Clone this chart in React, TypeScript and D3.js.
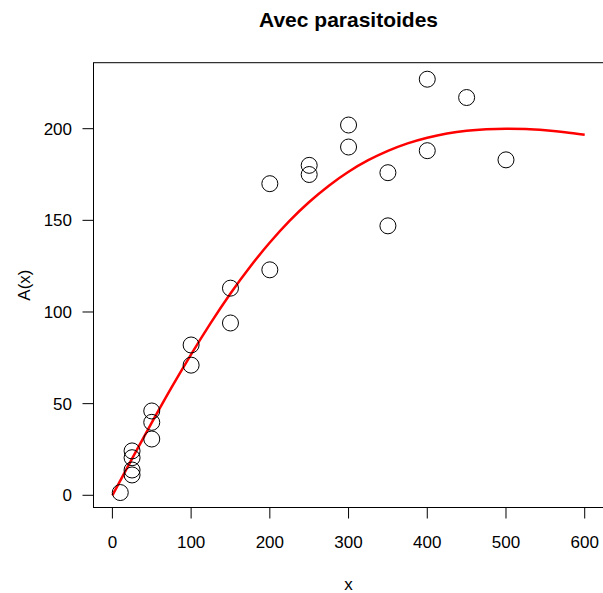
import React from "react";
import * as d3 from "d3";

const pointsX = [10, 25, 25, 25, 25, 50, 50, 50, 100, 100, 150, 150, 200, 200, 250, 250, 300, 300, 350, 350, 400, 400, 450, 500];
const pointsY = [1.5, 24.2, 20.5, 13.8, 11.1, 46, 39.8, 30.7, 82, 71, 113, 94, 170, 123, 180, 175, 202, 190, 176, 147, 227, 188, 217, 183];

const curveX = [0, 25, 50, 75, 100, 125, 150, 175, 200, 225, 250, 275, 300, 325, 350, 375, 400, 425, 450, 475, 500, 525, 550, 575, 600];
const curveY = [0, 20, 39.6, 58.7, 76.9, 94.1, 110.1, 124.7, 137.9, 149.7, 160, 168.9, 176.5, 182.8, 187.9, 192, 195.1, 197.4, 198.9, 199.7, 200, 199.8, 199.1, 198.1, 196.7];

const xTicks = [0, 100, 200, 300, 400, 500, 600];
const yTicks = [0, 50, 100, 150, 200];

const W = 603, H = 593;
const left = 93.5, right = 603.6, top = 62.7, bottom = 507.5;

export default function App() {
  const x = d3.scaleLinear().domain([-24, 624]).range([left, right]);
  const y = d3.scaleLinear().domain([-6.66, 236]).range([bottom, top]);
  const line = d3
    .line<number>()
    .x((_, i) => x(curveX[i]))
    .y((d) => y(d))
    .curve(d3.curveNatural);
  const font = "Liberation Sans, Arial, sans-serif";
  return (
    <svg width={W} height={H} style={{ position: "absolute", left: 0, top: 0, background: "#fff" }}>
      <rect x={0} y={0} width={W} height={H} fill="#fff" />
      <text x={(left + right) / 2} y={27} textAnchor="middle" fontFamily={font} fontWeight="bold" fontSize={21}>
        Avec parasitoides
      </text>
      <rect x={left} y={top} width={right - left} height={bottom - top} fill="none" stroke="#000" strokeWidth={1} />
      {xTicks.map((t) => (
        <g key={"x" + t}>
          <line x1={x(t)} x2={x(t)} y1={bottom} y2={bottom + 11} stroke="#000" />
          <text x={x(t)} y={548} textAnchor="middle" fontFamily={font} fontSize={17}>
            {t}
          </text>
        </g>
      ))}
      {yTicks.map((t) => (
        <g key={"y" + t}>
          <line x1={left - 11} x2={left} y1={y(t)} y2={y(t)} stroke="#000" />
          <text x={72} y={y(t) + 6} textAnchor="end" fontFamily={font} fontSize={17}>
            {t}
          </text>
        </g>
      ))}
      <text x={(left + right) / 2} y={590} textAnchor="middle" fontFamily={font} fontSize={17}>
        x
      </text>
      <text
        transform={`translate(29.5, ${(top + bottom) / 2}) rotate(-90)`}
        textAnchor="middle"
        fontFamily={font}
        fontSize={17}
      >
        A(x)
      </text>
      <path d={line(curveY) || ""} fill="none" stroke="#ff0000" strokeWidth={2.5} />
      {pointsX.map((px, i) => (
        <circle key={i} cx={x(px)} cy={y(pointsY[i])} r={8} fill="none" stroke="#000" strokeWidth={1} />
      ))}
    </svg>
  );
}
